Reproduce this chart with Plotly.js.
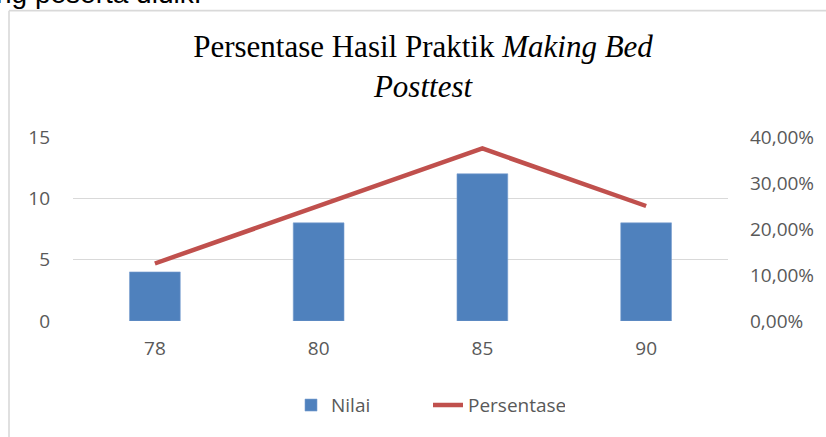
<!DOCTYPE html>
<html>
<head>
<meta charset="utf-8">
<script src="https://cdn.plot.ly/plotly-3.0.1.min.js"></script>
<style>html,body{margin:0;padding:0;background:#fff;}#chart{width:826px;height:437px;}</style>
</head>
<body>
<div id="chart"></div>
<script>
var categories = ['78', '80', '85', '90'];
var nilai = [4, 8, 12, 8];
var persentase = [0.125, 0.25, 0.375, 0.25];
var leftTicks = [0, 5, 10, 15];
var rightTicks = [0, 0.1, 0.2, 0.3, 0.4];

var W = 826, H = 437;
var L = 73, R = 728, T = 136.5, B = 320.7;
function px(x) { return (x - L) / (R - L); }
function py(y) { return (B - y) / (B - T); }

var tickFont = {family: '"Open Sans", sans-serif', size: 19, color: '#595959'};

var data = [
  {type: 'bar', name: 'Nilai', x: categories, y: nilai,
   marker: {color: '#4f81bd', line: {color: '#7a9fd0', width: 0.6}}, yaxis: 'y', hoverinfo: 'skip'},
  {type: 'scatter', mode: 'lines', name: 'Persentase', x: categories, y: persentase,
   line: {color: '#c0504d', width: 4.5}, yaxis: 'y2', hoverinfo: 'skip'}
];

var layout = {
  width: W, height: H,
  margin: {l: L, r: W - R, t: T, b: H - B, pad: 0},
  paper_bgcolor: '#ffffff', plot_bgcolor: '#ffffff',
  separators: ',.',
  showlegend: true,
  bargap: 0.69,
  hovermode: false,
  title: {
    text: 'Persentase Hasil Praktik <i>Making Bed</i><br><i>Posttest</i>',
    font: {family: '"Liberation Serif", "Times New Roman", serif', size: 31, color: '#000000'},
    xref: 'container', x: 423 / W, xanchor: 'center',
    yref: 'container', y: 1 - 57 / H, yanchor: 'top'
  },
  xaxis: {
    type: 'category', showgrid: false, zeroline: false, showline: false,
    ticks: '', tickfont: tickFont, ticklabelstandoff: 14, fixedrange: true
  },
  yaxis: {
    range: [0, 15], tickvals: leftTicks, ticktext: leftTicks.map(String),
    showgrid: true, gridcolor: '#d9d9d9', gridwidth: 1.3,
    zeroline: false, showline: false, ticks: '',
    tickfont: tickFont, ticklabelstandoff: 22, fixedrange: true
  },
  yaxis2: {
    overlaying: 'y', side: 'right', range: [0, 0.4], tickvals: rightTicks,
    tickformat: '.2%', showgrid: false, zeroline: false, showline: false, ticks: '',
    tickfont: tickFont, ticklabelstandoff: 21, fixedrange: true
  },
  legend: {
    orientation: 'h', x: px(428), xanchor: 'center', y: py(405), yanchor: 'middle',
    font: tickFont, entrywidth: 92, traceorder: 'normal', bgcolor: 'rgba(0,0,0,0)'
  },
  shapes: [
    {type: 'line', xref: 'paper', yref: 'paper', x0: px(9), x1: px(9), y0: py(10), y1: py(H + 5),
     line: {color: '#d9d9d9', width: 1.6}},
    {type: 'line', xref: 'paper', yref: 'paper', x0: px(9), x1: px(W + 5), y0: py(10), y1: py(10),
     line: {color: '#d9d9d9', width: 1.6}}
  ],
  annotations: [
    {text: 'ng peserta didik.', xref: 'paper', yref: 'paper', x: px(203), y: py(10),
     xanchor: 'right', yanchor: 'bottom', showarrow: false,
     font: {family: '"Liberation Sans", Arial, sans-serif', size: 28, color: '#000000'}}
  ]
};

Plotly.newPlot('chart', data, layout, {staticPlot: true, displayModeBar: false});
</script>
</body>
</html>
